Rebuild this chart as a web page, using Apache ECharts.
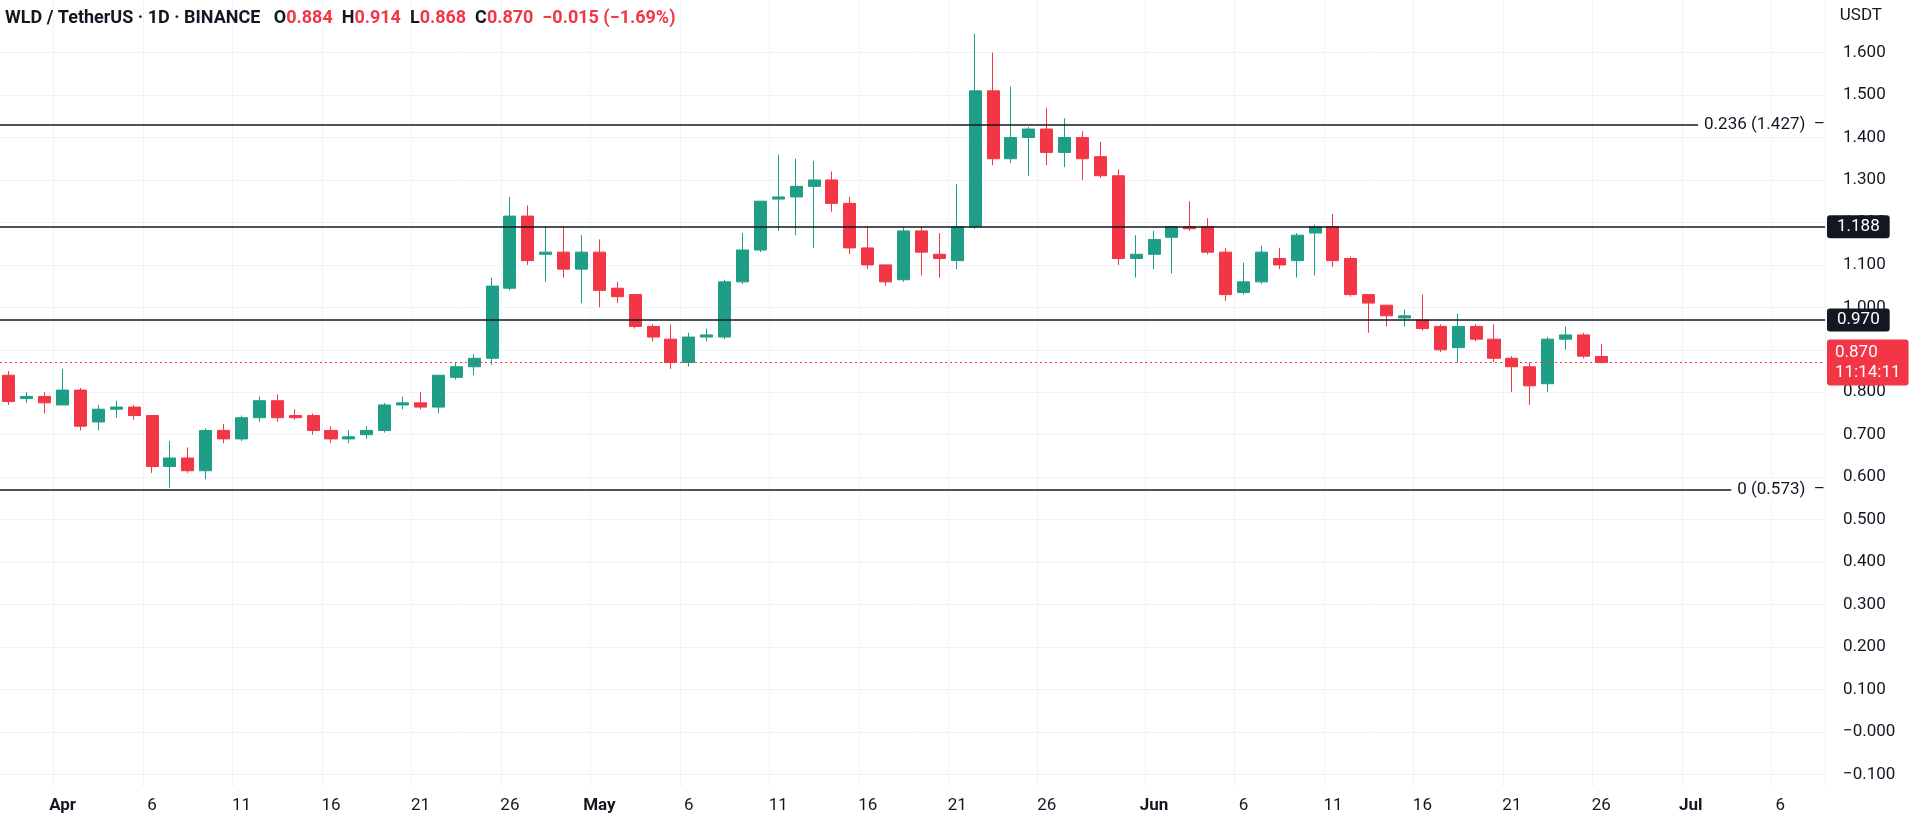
<!DOCTYPE html>
<html lang="en">
<head>
<meta charset="UTF-8">
<title>WLD / TetherUS</title>
<script src="https://cdn.jsdelivr.net/npm/echarts@6/dist/echarts.min.js"></script>
<style>html,body{margin:0;padding:0;background:#fff;}</style>
</head>
<body>
<div id="main" style="width:1920px;height:814px;"></div>
<script>
// daily candles from 29 Mar, each [open, close, low, high]
var startDate = [2024, 2, 29];
var totalDays = 102;
var ohlc = [
  [0.84,0.778,0.77,0.85],[0.785,0.79,0.775,0.80],[0.79,0.775,0.75,0.80],[0.77,0.805,0.77,0.855],
  [0.805,0.72,0.71,0.81],[0.73,0.76,0.71,0.77],[0.76,0.765,0.74,0.78],[0.765,0.745,0.735,0.77],
  [0.745,0.625,0.61,0.745],[0.625,0.645,0.575,0.685],[0.645,0.615,0.61,0.67],[0.615,0.71,0.595,0.715],
  [0.71,0.69,0.68,0.725],[0.69,0.74,0.685,0.745],[0.74,0.78,0.73,0.79],[0.78,0.74,0.73,0.795],
  [0.745,0.74,0.735,0.76],[0.745,0.71,0.70,0.75],[0.71,0.69,0.68,0.72],[0.69,0.695,0.68,0.71],
  [0.70,0.71,0.69,0.72],[0.71,0.77,0.705,0.775],[0.77,0.775,0.76,0.79],[0.775,0.765,0.76,0.80],
  [0.765,0.84,0.75,0.84],[0.835,0.86,0.83,0.87],[0.86,0.88,0.84,0.89],[0.88,1.05,0.865,1.07],
  [1.045,1.215,1.04,1.26],[1.215,1.11,1.10,1.24],[1.125,1.13,1.06,1.19],[1.13,1.09,1.07,1.19],
  [1.09,1.13,1.01,1.17],[1.13,1.04,1.00,1.16],[1.045,1.025,1.01,1.06],[1.03,0.955,0.95,1.03],
  [0.955,0.93,0.92,0.96],[0.925,0.87,0.855,0.96],[0.87,0.93,0.86,0.94],[0.93,0.935,0.92,0.95],
  [0.93,1.06,0.925,1.065],[1.06,1.135,1.055,1.175],[1.135,1.25,1.13,1.25],[1.255,1.26,1.18,1.36],
  [1.26,1.285,1.17,1.35],[1.285,1.30,1.14,1.345],[1.30,1.245,1.225,1.32],[1.245,1.14,1.125,1.26],
  [1.14,1.10,1.09,1.19],[1.10,1.06,1.05,1.10],[1.065,1.18,1.06,1.19],[1.18,1.13,1.075,1.19],
  [1.125,1.115,1.07,1.175],[1.11,1.19,1.09,1.29],[1.19,1.51,1.185,1.645],[1.51,1.35,1.335,1.60],
  [1.35,1.40,1.34,1.52],[1.40,1.42,1.31,1.425],[1.42,1.365,1.335,1.47],[1.365,1.40,1.33,1.445],
  [1.40,1.35,1.30,1.415],[1.355,1.31,1.305,1.39],[1.31,1.115,1.10,1.325],[1.115,1.125,1.07,1.17],
  [1.125,1.16,1.09,1.18],[1.165,1.19,1.08,1.19],[1.19,1.185,1.18,1.25],[1.19,1.13,1.125,1.21],
  [1.13,1.03,1.015,1.14],[1.035,1.06,1.03,1.105],[1.06,1.13,1.055,1.145],[1.115,1.10,1.09,1.14],
  [1.11,1.17,1.07,1.175],[1.175,1.19,1.075,1.195],[1.19,1.11,1.095,1.22],[1.115,1.03,1.025,1.12],
  [1.03,1.01,0.94,1.03],[1.005,0.98,0.955,1.005],[0.975,0.98,0.955,0.995],[0.97,0.95,0.945,1.03],
  [0.955,0.90,0.895,0.96],[0.905,0.955,0.87,0.985],[0.955,0.925,0.92,0.96],[0.925,0.88,0.87,0.96],
  [0.88,0.86,0.80,0.885],[0.86,0.815,0.77,0.87],[0.82,0.925,0.80,0.93],[0.925,0.935,0.90,0.955],
  [0.935,0.885,0.88,0.94],[0.884,0.870,0.868,0.914]
];
var yTicks = [-0.1,0,0.1,0.2,0.3,0.4,0.5,0.6,0.7,0.8,0.9,1.0,1.1,1.2,1.3,1.4,1.5,1.6];
var fibLevels = [[1.427,'0.236 (1.427)'],[0.573,'0 (0.573)']];
var keyLevels = [1.188, 0.970];
var lastPrice = 0.870;
var countdown = '11:14:11';

var green = '#1e9e86', red = '#f23645';
var monthNames = ['Jan','Feb','Mar','Apr','May','Jun','Jul','Aug'];
var dates = [];
var d0 = new Date(startDate[0], startDate[1], startDate[2]);
for (var i = 0; i < totalDays; i++) {
  var d = new Date(d0.getTime() + i * 86400000);
  dates.push(d.getMonth() + '-' + d.getDate());
}
function isLabel(idx) {
  var day = +dates[idx].split('-')[1];
  return day === 1 || (day % 5 === 1 && day <= 26);
}
var candleData = ohlc.map(function (c) { return [c[0], c[1], c[2], c[3]]; });

var markData = [];
fibLevels.forEach(function (f) {
  markData.push({yAxis: f[0], lineStyle: {color: '#131722', width: 1.5, type: 'solid'},
    label: {show: true, position: 'insideEnd', formatter: f[1] + '  –', color: '#131722',
      fontSize: 17, backgroundColor: '#fff', padding: [2, 0, 2, 6], distance: 0}});
});
keyLevels.forEach(function (v) {
  markData.push({yAxis: v, lineStyle: {color: '#131722', width: 1.5, type: 'solid'},
    label: {show: true, position: 'end', formatter: v.toFixed(3), color: '#fff',
      fontSize: 17, backgroundColor: '#131722', padding: [3, 10], borderRadius: 3, distance: 2}});
});
markData.push({yAxis: lastPrice, lineStyle: {color: red, width: 1.2, type: [2, 3]},
  label: {show: true, position: 'end', formatter: lastPrice.toFixed(3) + '\n' + countdown,
    color: '#fff', fontSize: 17, lineHeight: 20, backgroundColor: red, padding: [3, 8],
    borderRadius: 3, distance: 2, align: 'left'}});

var myChart = echarts.init(document.getElementById('main'));
myChart.setOption({
  animation: false,
  textStyle: {fontFamily: 'Roboto, "Noto Sans", sans-serif'},
  title: {
    left: 0, top: 4,
    text: '{b|WLD / TetherUS · 1D · BINANCE}   {b|O}{r|0.884}  {b|H}{r|0.914}  {b|L}{r|0.868}  {b|C}{r|0.870}  {r|−0.015 (−1.69%)}',
    textStyle: {rich: {b: {color: '#131722', fontSize: 18}, r: {color: red, fontSize: 18}}}
  },
  graphic: [{type: 'text', right: 38, top: 7, style: {text: 'USDT', fontSize: 17, fill: '#131722', fontFamily: 'Roboto'}}],
  grid: {left: 0, right: 95, top: 0, bottom: 24},
  xAxis: {
    type: 'category', data: dates, boundaryGap: true,
    axisLine: {show: false}, axisTick: {show: false},
    axisLabel: {
      interval: function (idx) { return isLabel(idx); },
      formatter: function (v) {
        var p = v.split('-');
        return p[1] === '1' ? '{m|' + monthNames[+p[0]] + '}' : p[1];
      },
      color: '#131722', fontSize: 17, margin: 10,
      rich: {m: {fontSize: 17, fontWeight: 'bold', color: '#131722'}}
    },
    splitLine: {show: true, interval: function (idx) { return isLabel(idx); }, lineStyle: {color: '#f0f3fa'}}
  },
  yAxis: {
    type: 'value', position: 'right', min: -0.13, max: 1.724, scale: true,
    axisLine: {show: false}, axisTick: {show: false},
    axisLabel: {
      customValues: yTicks, color: '#131722', fontSize: 17, margin: 18,
      formatter: function (v) { return Math.abs(v) < 1e-9 ? '−0.000' : (v < 0 ? '−' + Math.abs(v).toFixed(3) : v.toFixed(3)); }
    },
    splitLine: {show: false}
  },
  series: [{
    type: 'candlestick', data: candleData, barWidth: '70%',
    itemStyle: {color: green, color0: red, borderColor: green, borderColor0: red, borderWidth: 1},
    markLine: {symbol: 'none', silent: true, data: markData, z: 10}
  }, {
    // horizontal grid lines at y ticks
    type: 'line', data: [], markLine: {symbol: 'none', silent: true, label: {show: false},
      lineStyle: {color: '#f0f3fa', width: 1, type: 'solid'}, z: 0,
      data: yTicks.map(function (v) { return {yAxis: v}; })}, z: 0
  }]
});
</script>
</body>
</html>
